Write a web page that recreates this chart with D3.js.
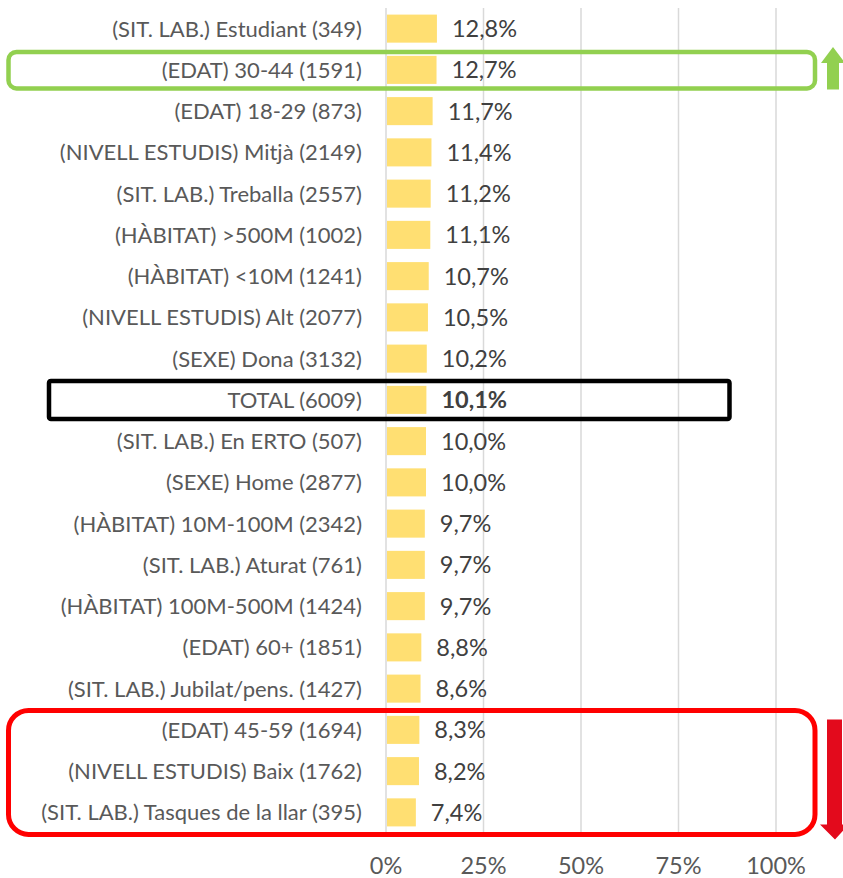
<!DOCTYPE html>
<html>
<head>
<meta charset="utf-8">
<script src="https://cdn.jsdelivr.net/npm/d3@7"></script>
<style>
  body { margin: 0; background: #fff; }
  svg text { font-family: Lato, "Open Sans", sans-serif; }
</style>
</head>
<body>
<div id="chart"></div>
<script>
// categories and values (% )
var categories = [
  "(SIT. LAB.) Estudiant (349)",
  "(EDAT) 30-44 (1591)",
  "(EDAT) 18-29 (873)",
  "(NIVELL ESTUDIS) Mitjà (2149)",
  "(SIT. LAB.) Treballa (2557)",
  "(HÀBITAT) >500M (1002)",
  "(HÀBITAT) <10M (1241)",
  "(NIVELL ESTUDIS) Alt (2077)",
  "(SEXE) Dona (3132)",
  "TOTAL (6009)",
  "(SIT. LAB.) En ERTO (507)",
  "(SEXE) Home (2877)",
  "(HÀBITAT) 10M-100M (2342)",
  "(SIT. LAB.) Aturat (761)",
  "(HÀBITAT) 100M-500M (1424)",
  "(EDAT) 60+ (1851)",
  "(SIT. LAB.) Jubilat/pens. (1427)",
  "(EDAT) 45-59 (1694)",
  "(NIVELL ESTUDIS) Baix (1762)",
  "(SIT. LAB.) Tasques de la llar (395)"
];
var values = [12.8, 12.7, 11.7, 11.4, 11.2, 11.1, 10.7, 10.5, 10.2, 10.1,
              10.0, 10.0, 9.7, 9.7, 9.7, 8.8, 8.6, 8.3, 8.2, 7.4];
var xTicks = [0, 25, 50, 75, 100];
var totalLabel = "TOTAL (6009)";
var topGroup = ["(EDAT) 30-44 (1591)"];
var bottomGroup = ["(EDAT) 45-59 (1694)", "(NIVELL ESTUDIS) Baix (1762)", "(SIT. LAB.) Tasques de la llar (395)"];

var W = 843, H = 878;
var pLeft = 386, pRight = 776, pTop = 8, pBottom = 833;

var svg = d3.select("#chart").append("svg")
    .attr("width", W)
    .attr("height", H);

var x = d3.scaleLinear().domain([0, 100]).range([pLeft, pRight]);
var y = d3.scaleBand().domain(categories).range([pTop, pBottom])
    .paddingInner(0.32).paddingOuter(0.16);
var mid = function(c) { return y(c) + y.bandwidth() / 2; };
var fmt = function(v) { return v.toFixed(1).replace(".", ",") + "%"; };

// gridlines
svg.append("g").selectAll("line").data(xTicks)
  .enter().append("line")
    .attr("x1", function(d) { return x(d); })
    .attr("x2", function(d) { return x(d); })
    .attr("y1", pTop).attr("y2", pBottom)
    .style("stroke", "#d9d9d9").style("stroke-width", 1.5);

// x tick labels
svg.append("g").selectAll("text").data(xTicks)
  .enter().append("text")
    .attr("x", function(d) { return x(d); })
    .attr("y", 874)
    .attr("text-anchor", "middle")
    .style("font-size", "23.5px").style("fill", "#595959")
    .text(function(d) { return d + "%"; });

// bars
svg.append("g").selectAll("rect").data(categories)
  .enter().append("rect")
    .attr("x", x(0) + 1)
    .attr("y", function(d) { return y(d); })
    .attr("width", function(d, i) { return x(values[i]) - x(0); })
    .attr("height", y.bandwidth())
    .style("fill", "#ffdf72");

// category labels
svg.append("g").selectAll("text").data(categories)
  .enter().append("text")
    .attr("x", 362)
    .attr("y", function(d) { return mid(d); })
    .attr("dy", "0.36em")
    .attr("text-anchor", "end")
    .style("font-size", "22px").style("fill", "#595959")
    .text(function(d) { return d; });

// value labels
svg.append("g").selectAll("text").data(categories)
  .enter().append("text")
    .attr("x", function(d, i) { return x(values[i]) + 16; })
    .attr("y", function(d) { return mid(d); })
    .attr("dy", "0.36em")
    .style("font-size", "23.5px").style("fill", "#404040")
    .style("font-weight", function(d) { return d === totalLabel ? "bold" : "normal"; })
    .text(function(d, i) { return fmt(values[i]); });

// highlight boxes
function box(first, last, padTop, padBot, x0, x1, color, sw, r) {
  svg.append("rect")
    .attr("x", x0).attr("width", x1 - x0)
    .attr("y", mid(first) - padTop)
    .attr("height", mid(last) - mid(first) + padTop + padBot)
    .attr("rx", r).attr("ry", r)
    .style("fill", "none").style("stroke", color).style("stroke-width", sw);
}
box(topGroup[0], topGroup[0], 18, 18.5, 8.5, 815, "#92d050", 4.5, 8);
box(totalLabel, totalLabel, 19, 19, 49, 729.5, "#000", 4.5, 2);
box(bottomGroup[0], bottomGroup[bottomGroup.length - 1], 19.5, 22, 8.5, 815, "#ff0000", 5, 20);

// arrows
var gTop = mid(topGroup[0]) - 18, gBot = mid(topGroup[0]) + 18.5;
svg.append("path")
  .attr("d", d3.line()([
    [833, gTop - 5], [845, gTop + 11], [839, gTop + 11], [839, gBot + 1],
    [827, gBot + 1], [827, gTop + 11], [821, gTop + 11]
  ]) + "Z")
  .style("fill", "#92d050");

var rTop = mid(bottomGroup[0]) - 19.5, rBot = mid(bottomGroup[bottomGroup.length - 1]) + 22;
svg.append("path")
  .attr("d", d3.line()([
    [827, rTop + 9], [842, rTop + 9], [842, rBot - 10], [849, rBot - 10],
    [835, rBot + 5], [820, rBot - 10], [827, rBot - 10]
  ]) + "Z")
  .style("fill", "#e30a1c");
</script>
</body>
</html>
